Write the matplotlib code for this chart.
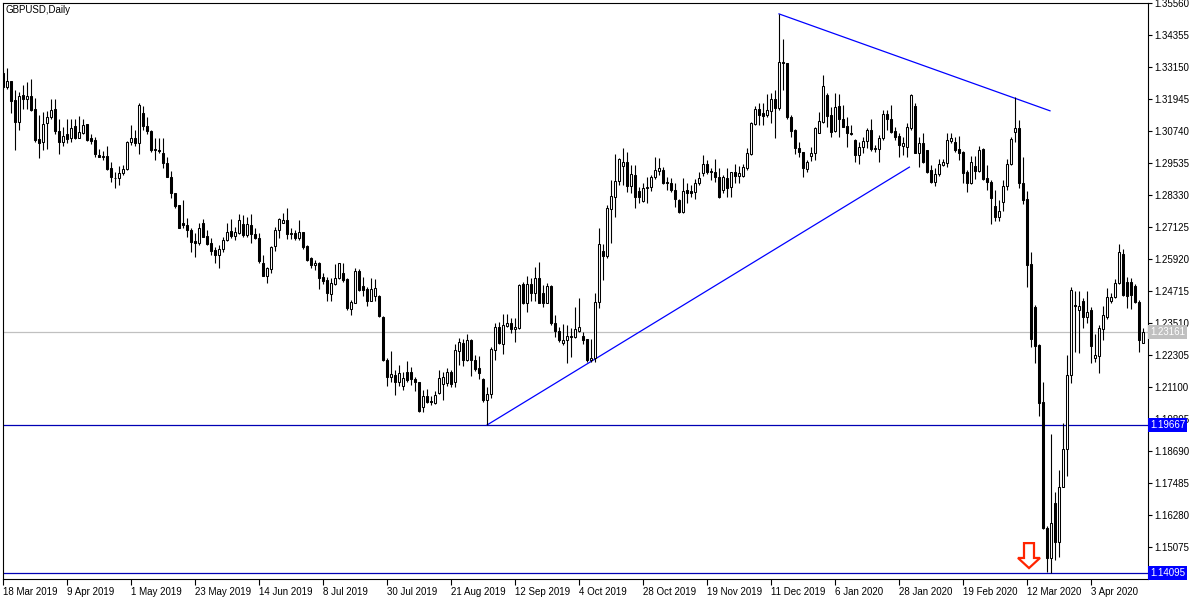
import matplotlib
matplotlib.use("Agg")
import matplotlib.pyplot as plt
import matplotlib.transforms as mtransforms
from matplotlib.patches import Polygon

plt.rcParams['font.family'] = ['Liberation Sans', 'DejaVu Sans']

# chart title
symbol = "GBPUSD,Daily"

# daily OHLC, one value per bar (bar 0 = 18 Mar 2019)
opens = [
    1.3293, 1.3241, 1.3262, 1.3190, 1.3109, 1.3209, 1.3193, 1.3205, 1.3155, 1.3043,
    1.3034, 1.3103, 1.3128, 1.3155, 1.3074, 1.3031, 1.3062, 1.3046, 1.3093, 1.3049,
    1.3067, 1.3100, 1.3047, 1.3040, 1.2983, 1.2977, 1.2979, 1.2933, 1.2898, 1.2896,
    1.2914, 1.2931, 1.3034, 1.3046, 1.3030, 1.3140, 1.3094, 1.3074, 1.3008, 1.3002,
    1.2990, 1.2954, 1.2902, 1.2839, 1.2795, 1.2726, 1.2721, 1.2703, 1.2660, 1.2653,
    1.2726, 1.2678, 1.2653, 1.2626, 1.2607, 1.2628, 1.2663, 1.2697, 1.2680, 1.2688,
    1.2722, 1.2682, 1.2720, 1.2686, 1.2670, 1.2578, 1.2529, 1.2553, 1.2641, 1.2701,
    1.2729, 1.2739, 1.2686, 1.2691, 1.2670, 1.2695, 1.2639, 1.2595, 1.2570, 1.2578,
    1.2523, 1.2513, 1.2460, 1.2497, 1.2519, 1.2538, 1.2517, 1.2404, 1.2428, 1.2547,
    1.2490, 1.2478, 1.2435, 1.2453, 1.2453, 1.2375, 1.2212, 1.2149, 1.2155, 1.2130,
    1.2115, 1.2168, 1.2168, 1.2139, 1.2128, 1.2036, 1.2076, 1.2057, 1.2049, 1.2086,
    1.2121, 1.2124, 1.2168, 1.2127, 1.2247, 1.2277, 1.2212, 1.2287, 1.2212, 1.2181,
    1.2140, 1.2061, 1.2084, 1.2250, 1.2335, 1.2272, 1.2340, 1.2352, 1.2327, 1.2331,
    1.2498, 1.2425, 1.2498, 1.2465, 1.2519, 1.2463, 1.2428, 1.2490, 1.2350, 1.2319,
    1.2277, 1.2285, 1.2303, 1.2300, 1.2322, 1.2302, 1.2289, 1.2212, 1.2218, 1.2431,
    1.2622, 1.2603, 1.2779, 1.2827, 1.2887, 1.2942, 1.2956, 1.2868, 1.2908, 1.2848,
    1.2811, 1.2858, 1.2862, 1.2899, 1.2925, 1.2927, 1.2883, 1.2879, 1.2852, 1.2814,
    1.2770, 1.2852, 1.2848, 1.2846, 1.2877, 1.2917, 1.2950, 1.2925, 1.2921, 1.2899,
    1.2852, 1.2896, 1.2862, 1.2918, 1.2906, 1.2906, 1.2934, 1.2987, 1.3100, 1.3156,
    1.3140, 1.3134, 1.3150, 1.3193, 1.3159, 1.3334, 1.3330, 1.3128, 1.3078, 1.3009,
    1.2994, 1.2930, 1.2981, 1.2990, 1.3068, 1.3109, 1.3210, 1.3134, 1.3075, 1.3168,
    1.3118, 1.3093, 1.3068, 1.3040, 1.2984, 1.3012, 1.3038, 1.3078, 1.3005, 1.3006,
    1.3046, 1.3137, 1.3118, 1.3074, 1.3055, 1.3019, 1.3015, 1.3084, 1.3168, 1.2992,
    1.3028, 1.3002, 1.2927, 1.2883, 1.2912, 1.2946, 1.2955, 1.3038, 1.3034, 1.3005,
    1.2996, 1.2921, 1.2877, 1.2942, 1.2925, 1.3005, 1.2896, 1.2881, 1.2792, 1.2749,
    1.2808, 1.2867, 1.2950, 1.3072, 1.3084, 1.2879, 1.2817, 1.2573, 1.2413, 1.2268,
    1.2055, 1.1578, 1.1465, 1.1672, 1.1528, 1.1732, 1.1875, 1.2155, 1.2419, 1.2400,
    1.2435, 1.2373, 1.2398, 1.2218, 1.2225, 1.2327, 1.2373, 1.2432, 1.2450, 1.2500,
    1.2611, 1.2507, 1.2507, 1.2491, 1.2431, 1.2275,
]
highs = [
    1.3303, 1.3310, 1.3262, 1.3228, 1.3222, 1.3247, 1.3259, 1.3269, 1.3197, 1.3134,
    1.3146, 1.3150, 1.3193, 1.3193, 1.3118, 1.3090, 1.3121, 1.3121, 1.3121, 1.3130,
    1.3118, 1.3100, 1.3062, 1.3050, 1.3008, 1.2999, 1.3017, 1.2958, 1.2921, 1.2942,
    1.2946, 1.3036, 1.3096, 1.3077, 1.3178, 1.3168, 1.3128, 1.3077, 1.3046, 1.3046,
    1.3046, 1.2977, 1.2923, 1.2841, 1.2797, 1.2814, 1.2745, 1.2707, 1.2688, 1.2726,
    1.2741, 1.2701, 1.2670, 1.2638, 1.2644, 1.2673, 1.2726, 1.2741, 1.2714, 1.2760,
    1.2757, 1.2751, 1.2760, 1.2707, 1.2688, 1.2607, 1.2563, 1.2641, 1.2714, 1.2745,
    1.2764, 1.2785, 1.2708, 1.2701, 1.2737, 1.2695, 1.2645, 1.2601, 1.2588, 1.2582,
    1.2538, 1.2523, 1.2519, 1.2573, 1.2578, 1.2576, 1.2519, 1.2438, 1.2557, 1.2555,
    1.2523, 1.2488, 1.2519, 1.2515, 1.2457, 1.2378, 1.2218, 1.2247, 1.2174, 1.2193,
    1.2168, 1.2206, 1.2187, 1.2149, 1.2130, 1.2099, 1.2101, 1.2076, 1.2093, 1.2174,
    1.2168, 1.2181, 1.2174, 1.2272, 1.2294, 1.2290, 1.2310, 1.2289, 1.2231, 1.2228,
    1.2143, 1.2109, 1.2262, 1.2350, 1.2356, 1.2385, 1.2385, 1.2369, 1.2369, 1.2498,
    1.2507, 1.2528, 1.2519, 1.2561, 1.2582, 1.2494, 1.2503, 1.2494, 1.2381, 1.2337,
    1.2347, 1.2344, 1.2331, 1.2413, 1.2444, 1.2318, 1.2289, 1.2289, 1.2465, 1.2710,
    1.2647, 1.2795, 1.2889, 1.2987, 1.2974, 1.3009, 1.2994, 1.2946, 1.2946, 1.2864,
    1.2877, 1.2902, 1.2908, 1.2975, 1.2971, 1.2937, 1.2899, 1.2896, 1.2879, 1.2817,
    1.2896, 1.2877, 1.2871, 1.2892, 1.2921, 1.2984, 1.2965, 1.2933, 1.2967, 1.2933,
    1.2908, 1.2933, 1.2921, 1.2950, 1.2942, 1.2950, 1.3009, 1.3109, 1.3168, 1.3178,
    1.3181, 1.3213, 1.3216, 1.3228, 1.3515, 1.3421, 1.3330, 1.3134, 1.3080, 1.3034,
    1.2996, 1.2965, 1.3012, 1.3090, 1.3147, 1.3285, 1.3216, 1.3166, 1.3216, 1.3213,
    1.3172, 1.3125, 1.3097, 1.3043, 1.3034, 1.3050, 1.3084, 1.3118, 1.3022, 1.3059,
    1.3153, 1.3153, 1.3172, 1.3090, 1.3065, 1.3050, 1.3105, 1.3212, 1.3181, 1.3050,
    1.3068, 1.3002, 1.2946, 1.2934, 1.2967, 1.2967, 1.3068, 1.3065, 1.3053, 1.3055,
    1.3000, 1.2927, 1.2980, 1.2980, 1.3018, 1.3009, 1.2946, 1.2889, 1.2852, 1.2814,
    1.2889, 1.2967, 1.3053, 1.3201, 1.3115, 1.2975, 1.2849, 1.2620, 1.2419, 1.2272,
    1.2130, 1.1585, 1.1933, 1.1716, 1.1798, 1.1976, 1.2231, 1.2488, 1.2473, 1.2473,
    1.2444, 1.2473, 1.2413, 1.2310, 1.2344, 1.2415, 1.2482, 1.2463, 1.2516, 1.2649,
    1.2629, 1.2526, 1.2520, 1.2498, 1.2438, 1.2331,
]
lows = [
    1.3234, 1.3234, 1.3143, 1.3002, 1.3077, 1.3155, 1.3155, 1.3150, 1.3034, 1.2973,
    1.3002, 1.3008, 1.3118, 1.3062, 1.2986, 1.3018, 1.3027, 1.3034, 1.3042, 1.3046,
    1.3062, 1.3036, 1.3025, 1.2977, 1.2975, 1.2965, 1.2927, 1.2883, 1.2860, 1.2870,
    1.2908, 1.2927, 1.3021, 1.3017, 1.2986, 1.3077, 1.3062, 1.2996, 1.2965, 1.2990,
    1.2936, 1.2899, 1.2820, 1.2785, 1.2707, 1.2707, 1.2676, 1.2619, 1.2601, 1.2644,
    1.2673, 1.2644, 1.2607, 1.2578, 1.2557, 1.2619, 1.2660, 1.2672, 1.2663, 1.2685,
    1.2676, 1.2676, 1.2653, 1.2666, 1.2578, 1.2528, 1.2503, 1.2538, 1.2623, 1.2670,
    1.2726, 1.2667, 1.2666, 1.2664, 1.2664, 1.2629, 1.2586, 1.2557, 1.2551, 1.2478,
    1.2497, 1.2435, 1.2435, 1.2494, 1.2516, 1.2507, 1.2400, 1.2381, 1.2425, 1.2473,
    1.2453, 1.2416, 1.2432, 1.2434, 1.2375, 1.2209, 1.2114, 1.2130, 1.2078, 1.2112,
    1.2099, 1.2127, 1.2118, 1.2093, 1.2017, 1.2014, 1.2049, 1.2043, 1.2046, 1.2084,
    1.2061, 1.2112, 1.2109, 1.2109, 1.2191, 1.2189, 1.2206, 1.2153, 1.2172, 1.2140,
    1.2055, 1.19667, 1.2068, 1.2212, 1.2272, 1.2233, 1.2337, 1.2315, 1.2281, 1.2327,
    1.2423, 1.2391, 1.2435, 1.2432, 1.2425, 1.2410, 1.2425, 1.2344, 1.2300, 1.2281,
    1.2268, 1.2202, 1.2224, 1.2294, 1.2316, 1.2272, 1.2204, 1.2204, 1.2204, 1.2406,
    1.2513, 1.2595, 1.2653, 1.2749, 1.2871, 1.2871, 1.2846, 1.2839, 1.2785, 1.2802,
    1.2808, 1.2804, 1.2849, 1.2893, 1.2908, 1.2874, 1.2852, 1.2843, 1.2789, 1.2764,
    1.2767, 1.2804, 1.2824, 1.2817, 1.2871, 1.2905, 1.2912, 1.2890, 1.2883, 1.2820,
    1.2839, 1.2827, 1.2824, 1.2877, 1.2877, 1.2902, 1.2927, 1.2984, 1.3097, 1.3097,
    1.3097, 1.3128, 1.3105, 1.3046, 1.3153, 1.3228, 1.3120, 1.3050, 1.2987, 1.2977,
    1.2902, 1.2921, 1.2962, 1.2965, 1.3065, 1.3105, 1.3090, 1.3050, 1.3071, 1.3053,
    1.3088, 1.3012, 1.3059, 1.2959, 1.2950, 1.2990, 1.3009, 1.3000, 1.2996, 1.2959,
    1.3040, 1.3078, 1.3065, 1.3040, 1.2975, 1.2984, 1.2975, 1.3078, 1.2990, 1.2937,
    1.2955, 1.2917, 1.2877, 1.2867, 1.2905, 1.2942, 1.2937, 1.3028, 1.2996, 1.2965,
    1.2877, 1.2846, 1.2874, 1.2892, 1.2921, 1.2889, 1.2852, 1.2724, 1.2736, 1.2736,
    1.2774, 1.2852, 1.2946, 1.3034, 1.2858, 1.2799, 1.2488, 1.2262, 1.2199, 1.1999,
    1.1576, 1.1415, 1.14095, 1.1459, 1.1471, 1.1732, 1.1773, 1.2126, 1.2243, 1.2239,
    1.2331, 1.2352, 1.2202, 1.2205, 1.2162, 1.2287, 1.2365, 1.2428, 1.2444, 1.2498,
    1.2453, 1.2406, 1.2403, 1.2428, 1.2243, 1.2275,
]
closes = [
    1.3238, 1.3262, 1.3188, 1.3109, 1.3205, 1.3193, 1.3205, 1.3153, 1.3040, 1.3027,
    1.3100, 1.3125, 1.3153, 1.3074, 1.3031, 1.3056, 1.3044, 1.3084, 1.3049, 1.3071,
    1.3096, 1.3040, 1.3036, 1.2986, 1.2977, 1.2979, 1.2929, 1.2899, 1.2896, 1.2914,
    1.2932, 1.3031, 1.3046, 1.3030, 1.3172, 1.3094, 1.3074, 1.3002, 1.3002, 1.3000,
    1.2954, 1.2902, 1.2839, 1.2791, 1.2710, 1.2721, 1.2701, 1.2656, 1.2653, 1.2707,
    1.2676, 1.2648, 1.2623, 1.2607, 1.2628, 1.2663, 1.2695, 1.2680, 1.2692, 1.2739,
    1.2682, 1.2722, 1.2686, 1.2670, 1.2584, 1.2529, 1.2557, 1.2636, 1.2701, 1.2741,
    1.2739, 1.2685, 1.2691, 1.2670, 1.2695, 1.2636, 1.2588, 1.2570, 1.2578, 1.2519,
    1.2509, 1.2463, 1.2501, 1.2519, 1.2576, 1.2511, 1.2406, 1.2429, 1.2547, 1.2475,
    1.2475, 1.2435, 1.2480, 1.2482, 1.2378, 1.2212, 1.2149, 1.2159, 1.2130, 1.2162,
    1.2143, 1.2137, 1.2139, 1.2128, 1.2021, 1.2076, 1.2055, 1.2053, 1.2080, 1.2143,
    1.2147, 1.2166, 1.2120, 1.2250, 1.2278, 1.2212, 1.2287, 1.2212, 1.2177, 1.2162,
    1.2061, 1.2084, 1.2252, 1.2335, 1.2275, 1.2344, 1.2352, 1.2327, 1.2335, 1.2494,
    1.2425, 1.2498, 1.2465, 1.2519, 1.2428, 1.2428, 1.2490, 1.2350, 1.2319, 1.2285,
    1.2287, 1.2302, 1.2300, 1.2327, 1.2335, 1.2287, 1.2212, 1.2218, 1.2431, 1.2647,
    1.2603, 1.2783, 1.2829, 1.2887, 1.2969, 1.2956, 1.2867, 1.2912, 1.2827, 1.2827,
    1.2858, 1.2864, 1.2899, 1.2927, 1.2933, 1.2879, 1.2877, 1.2852, 1.2817, 1.2770,
    1.2849, 1.2842, 1.2842, 1.2879, 1.2896, 1.2950, 1.2921, 1.2918, 1.2902, 1.2824,
    1.2899, 1.2858, 1.2918, 1.2906, 1.2914, 1.2937, 1.2990, 1.3103, 1.3156, 1.3134,
    1.3132, 1.3153, 1.3193, 1.3159, 1.3334, 1.3330, 1.3127, 1.3075, 1.3009, 1.2996,
    1.2933, 1.2956, 1.2990, 1.3084, 1.3112, 1.3243, 1.3130, 1.3071, 1.3166, 1.3118,
    1.3090, 1.3065, 1.3062, 1.2984, 1.3012, 1.3038, 1.3078, 1.3005, 1.3011, 1.3046,
    1.3137, 1.3118, 1.3069, 1.3053, 1.3021, 1.3028, 1.3088, 1.3210, 1.2992, 1.3028,
    1.2959, 1.2921, 1.2881, 1.2912, 1.2950, 1.2958, 1.3040, 1.3049, 1.3002, 1.2992,
    1.2917, 1.2877, 1.2959, 1.2925, 1.3002, 1.2892, 1.2881, 1.2821, 1.2751, 1.2774,
    1.2867, 1.2950, 1.3043, 1.3084, 1.2879, 1.2814, 1.2569, 1.2290, 1.2264, 1.2051,
    1.1578, 1.1465, 1.1597, 1.1528, 1.1732, 1.1875, 1.2155, 1.2475, 1.2416, 1.2415,
    1.2373, 1.2394, 1.2264, 1.2231, 1.2331, 1.2381, 1.2450, 1.2448, 1.2500, 1.2620,
    1.2457, 1.2453, 1.2457, 1.2431, 1.2285, 1.2316,
]

# time axis labels (every 16th bar)
tick_bars = [0, 16, 32, 48, 64, 80, 96, 112, 128, 144, 160, 176, 192, 208, 224, 240, 256, 272]
tick_dates = ["18 Mar 2019", "9 Apr 2019", "1 May 2019", "23 May 2019", "14 Jun 2019",
              "8 Jul 2019", "30 Jul 2019", "21 Aug 2019", "12 Sep 2019", "4 Oct 2019",
              "28 Oct 2019", "19 Nov 2019", "11 Dec 2019", "6 Jan 2020", "28 Jan 2020",
              "19 Feb 2020", "12 Mar 2020", "3 Apr 2020"]

# price scale
price_ticks = [1.35560, 1.34355, 1.33150, 1.31945, 1.30740, 1.29535, 1.28330, 1.27125,
               1.25920, 1.24715, 1.23510, 1.22305, 1.21100, 1.19895, 1.18690, 1.17485,
               1.16280, 1.15075]

# chart objects
support_level = 1.19667
low_level = 1.14095
last_price = 1.23161
rising_line = ([121, 226.6], [1.19667, 1.2938])
falling_line = ([194, 261.75], [1.3515, 1.3150])
arrow_tip = (256.5, 1.1428)

n = len(closes)
assert len(opens) == n and len(highs) == n and len(lows) == n

W, H = 1200, 600
fig = plt.figure(figsize=(12, 6), dpi=100)
fig.patch.set_facecolor('white')
ax = fig.add_axes([2.5 / W, 1 - 579 / H, 1145 / W, 576.5 / H])
ax.set_xlim(-0.125, 286.125)
ax.set_ylim(1.13868, 1.35579)

# levels and trend lines
ax.axhline(last_price, color='#c0c0c0', lw=0.9, zorder=1)
ax.axhline(support_level, color='#0000b4', lw=0.9, zorder=1)
ax.axhline(low_level, color='#0000b4', lw=0.9, zorder=1)
ax.plot(rising_line[0], rising_line[1], color='#0000ff', lw=0.9, zorder=1)
ax.plot(falling_line[0], falling_line[1], color='#0000ff', lw=0.9, zorder=1)

# candles
xs = list(range(n))
wick_lo = [min(l, o, c) for l, o, c in zip(lows, opens, closes)]
wick_hi = [max(h, o, c) for h, o, c in zip(highs, opens, closes)]
ax.vlines(xs, wick_lo, wick_hi, color='black', lw=0.8, zorder=2)
bottoms = [min(o, c) for o, c in zip(opens, closes)]
heights = [abs(c - o) for o, c in zip(opens, closes)]
fills = ['white' if c >= o else 'black' for o, c in zip(opens, closes)]
ax.bar(xs, heights, bottom=bottoms, width=0.5, color=fills,
       edgecolor='black', linewidth=0.75, zorder=3)

# red down arrow
ax_x, ax_y = arrow_tip
hw_shaft, hw_head = 1.25, 2.75
head_h, total_h = 0.0038, 0.0094
arrow_pts = [(ax_x, ax_y), (ax_x - hw_head, ax_y + head_h), (ax_x - hw_shaft, ax_y + head_h),
             (ax_x - hw_shaft, ax_y + total_h), (ax_x + hw_shaft, ax_y + total_h),
             (ax_x + hw_shaft, ax_y + head_h), (ax_x + hw_head, ax_y + head_h)]
ax.add_patch(Polygon(arrow_pts, closed=True, facecolor='white', edgecolor='#ff2400',
                     lw=1.6, zorder=4))

# axes styling
for s in ax.spines.values():
    s.set_color('black')
    s.set_linewidth(0.8)
ax.yaxis.tick_right()
ax.set_yticks(price_ticks)
ax.set_yticklabels([f"{v:.5f}" for v in price_ticks])
ax.tick_params(axis='y', length=3, width=0.8, pad=2, labelsize=7, colors='black')
ax.set_xticks(tick_bars)
ax.set_xticklabels(tick_dates)
ax.tick_params(axis='x', length=4, width=0.8, pad=2, labelsize=7, colors='black')
plt.setp(ax.get_xticklabels(), ha='left')

# price tags on the right scale
tag_tr = mtransforms.blended_transform_factory(ax.transAxes, ax.transData)
for level, fc in [(last_price, '#c0c0c0'), (support_level, '#0000ff'), (low_level, '#0000ff')]:
    ax.text(1.0022, level, f"{level:.5f}", transform=tag_tr, ha='left', va='center',
            color='white', fontsize=7, clip_on=False, zorder=6,
            bbox=dict(boxstyle='square,pad=0.2', fc=fc, ec='none'))

fig.text(5 / W, 1 - 10 / H, symbol, ha='left', va='center', fontsize=7, color='black')

fig.savefig('out.png', dpi=100, facecolor='white')
